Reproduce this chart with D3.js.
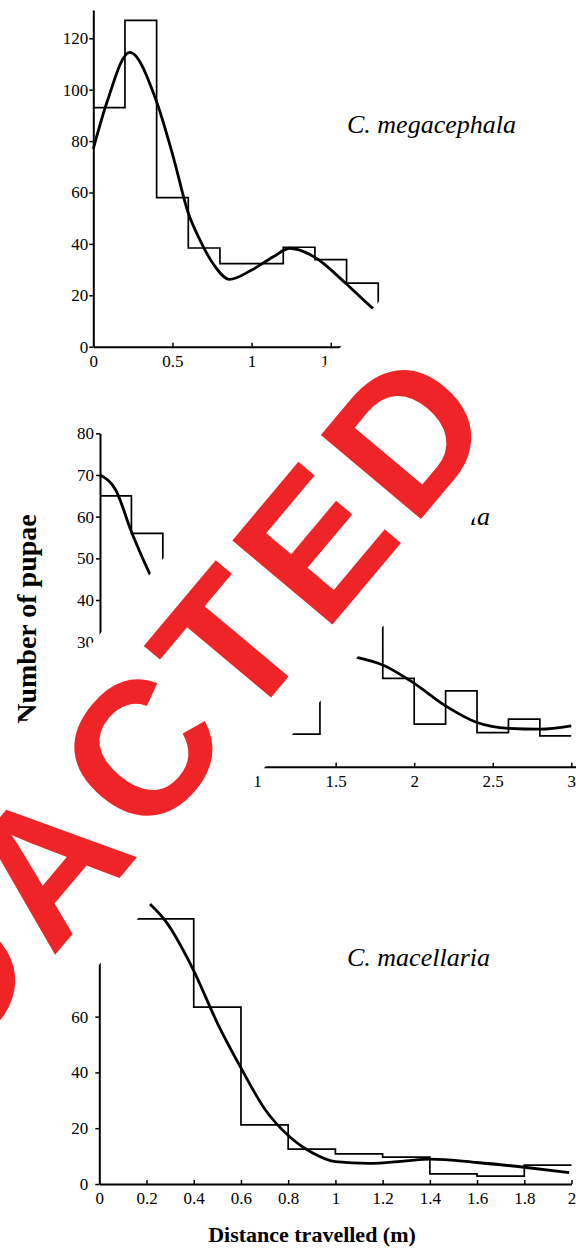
<!DOCTYPE html>
<html>
<head>
<meta charset="utf-8">
<script src="https://cdn.jsdelivr.net/npm/d3@7"></script>
<style>
  body { margin: 0; background: #fff; }
  svg { display: block; }
  .tick text { font-family: "Liberation Serif", "Times New Roman", serif; font-size: 17px; fill: #000; }
</style>
</head>
<body>
<svg id="chart" width="576" height="1248"></svg>
<script>
// histogram bins are 0.2 m wide, starting at 0
const binWidth = 0.2
const species = ['C. megacephala', 'C. putoria', 'C. macellaria']

const topBins = [93, 127, 58, 38.4, 32.3, 32.3, 38.7, 33.9, 24.7, 12]
const topFitX = [0, 0.084, 0.23, 0.396, 0.505, 0.6, 0.674, 0.76, 0.86, 1.0, 1.137, 1.242, 1.394, 1.594, 1.759, 1.9, 2.0]
const topFitY = [77, 94.7, 114.5, 96, 73.9, 52, 41.5, 32, 26.2, 29.8, 35, 38.3, 35, 24.7, 15.3, 9, 5]

const midBins = [65, 56, 42, 32, 25, 20, 7.8, 30, 38, 21.2, 10.2, 18.2, 8.2, 11.4, 7.4]
const midFitX = [0, 0.1, 0.2, 0.31, 0.45, 0.6, 0.8, 1.0, 1.2, 1.4, 1.64, 1.8, 2.0, 2.2, 2.4, 2.6, 2.8, 3.0]
const midFitY = [70, 66.4, 56.4, 46.8, 36, 29, 25, 24, 26, 27.5, 26.2, 24.4, 20, 14.6, 10.6, 9.2, 9.0, 9.8]

const lowBins = [95, 95, 63.4, 21.2, 12.5, 10.8, 9.6, 3.6, 2.8, 6.8]
const lowFitX = [0.1, 0.211, 0.28, 0.394, 0.5, 0.6, 0.703, 0.805, 0.906, 1.0, 1.14, 1.3, 1.4, 1.6, 1.8, 1.99]
const lowFitY = [108, 100.6, 94.3, 77.5, 57.7, 41.6, 26.6, 17, 11, 8, 7.4, 8.3, 8.9, 7.7, 6.0, 4.1]

const topXTicks = [0, 0.5, 1, 1.5, 2]
const topYTicks = [0, 20, 40, 60, 80, 100, 120]
const midXTicks = [0, 0.5, 1, 1.5, 2, 2.5, 3]
const midYTicks = [0, 10, 20, 30, 40, 50, 60, 70, 80]
const lowXTicks = [0, 0.2, 0.4, 0.6, 0.8, 1, 1.2, 1.4, 1.6, 1.8, 2]
const lowYTicks = [0, 20, 40, 60, 80, 100]

const svg = d3.select('#chart')
const fmt = (d) => String(+d.toFixed(1))

const panels = [
  {
    bins: topBins, fitX: topFitX, fitY: topFitY, label: species[0],
    x: d3.scaleLinear().domain([0, 2]).range([93.3, 409.9]),
    y: d3.scaleLinear().domain([0, 131]).range([346.7, 10]),
    xTicks: topXTicks, yTicks: topYTicks, yPad: 1,
    labelAt: [347, 133], anchor: 'start',
  },
  {
    bins: midBins, fitX: midFitX, fitY: midFitY, label: species[1],
    x: d3.scaleLinear().domain([0, 3.03]).range([100, 576]),
    y: d3.scaleLinear().domain([0, 80]).range([766.7, 433.3]),
    xTicks: midXTicks, yTicks: midYTicks, yPad: 2,
    labelAt: [490, 525], anchor: 'end',
  },
  {
    bins: lowBins, fitX: lowFitX, fitY: lowFitY, label: species[2],
    x: d3.scaleLinear().domain([0, 2]).range([99.3, 571.5]),
    y: d3.scaleLinear().domain([0, 100]).range([1184, 905]),
    xTicks: lowXTicks, yTicks: lowYTicks, yPad: 7,
    labelAt: [347, 966], anchor: 'start',
  },
]

panels.forEach((p) => {
  const g = svg.append('g')

  const xAxis = d3.axisBottom(p.x)
    .tickValues(p.xTicks)
    .tickSizeInner(-4)
    .tickSizeOuter(0)
    .tickPadding(8)
    .tickFormat(fmt)
  const yAxis = d3.axisLeft(p.y)
    .tickValues(p.yTicks)
    .tickSizeInner(4)
    .tickSizeOuter(0)
    .tickPadding(p.yPad)
    .tickFormat(d3.format('d'))

  g.append('g')
    .attr('transform', `translate(0,${p.y(0)})`)
    .call(xAxis)
  g.append('g')
    .attr('transform', `translate(${p.x(0)},0)`)
    .call(yAxis)
  g.selectAll('.domain').attr('stroke', '#000').attr('stroke-width', 2)
  g.selectAll('.tick line').attr('stroke', '#000').attr('stroke-width', 1.5)

  // step outline of the histogram
  const steps = p.bins.map((v, i) => [i * binWidth, v])
  steps.push([p.bins.length * binWidth, p.bins[p.bins.length - 1]])
  const stepLine = d3.line()
    .x((d) => p.x(d[0]))
    .y((d) => p.y(d[1]))
    .curve(d3.curveStepAfter)
  g.append('path')
    .datum(steps)
    .attr('fill', 'none')
    .attr('stroke', '#000')
    .attr('stroke-width', 1.7)
    .attr('d', stepLine)

  // fitted curve
  const fit = p.fitX.map((x, i) => [x, p.fitY[i]])
  const fitLine = d3.line()
    .x((d) => p.x(d[0]))
    .y((d) => p.y(d[1]))
    .curve(d3.curveMonotoneX)
  g.append('path')
    .datum(fit)
    .attr('fill', 'none')
    .attr('stroke', '#000')
    .attr('stroke-width', 2.8)
    .attr('d', fitLine)

  g.append('text')
    .attr('x', p.labelAt[0])
    .attr('y', p.labelAt[1])
    .attr('text-anchor', p.anchor)
    .attr('font-family', '"Liberation Serif", "Times New Roman", serif')
    .attr('font-style', 'italic')
    .attr('font-size', 26)
    .text(p.label)
})

svg.append('text')
  .attr('transform', 'translate(36,619) rotate(-90)')
  .attr('text-anchor', 'middle')
  .attr('font-family', '"Liberation Serif", "Times New Roman", serif')
  .attr('font-weight', 'bold')
  .attr('font-size', 28)
  .text('Number of pupae')

svg.append('text')
  .attr('x', 312)
  .attr('y', 1242)
  .attr('text-anchor', 'middle')
  .attr('font-family', '"Liberation Serif", "Times New Roman", serif')
  .attr('font-weight', 'bold')
  .attr('font-size', 22)
  .text('Distance travelled (m)')

// redaction stamp: white band with red lettering, rotated
const stamp = svg.append('g').attr('transform', 'rotate(-50)')
stamp.append('rect')
  .attr('x', -1400)
  .attr('y', 484)
  .attr('width', 1440)
  .attr('height', 212)
  .attr('fill', '#fff')
stamp.append('text')
  .attr('x', -1135)
  .attr('y', 656)
  .attr('font-family', '"Liberation Sans", Arial, sans-serif')
  .attr('font-weight', 'bold')
  .attr('font-size', 190)
  .attr('letter-spacing', 11)
  .attr('fill', '#ee2427')
  .text('REDACTED')
</script>
</body>
</html>
